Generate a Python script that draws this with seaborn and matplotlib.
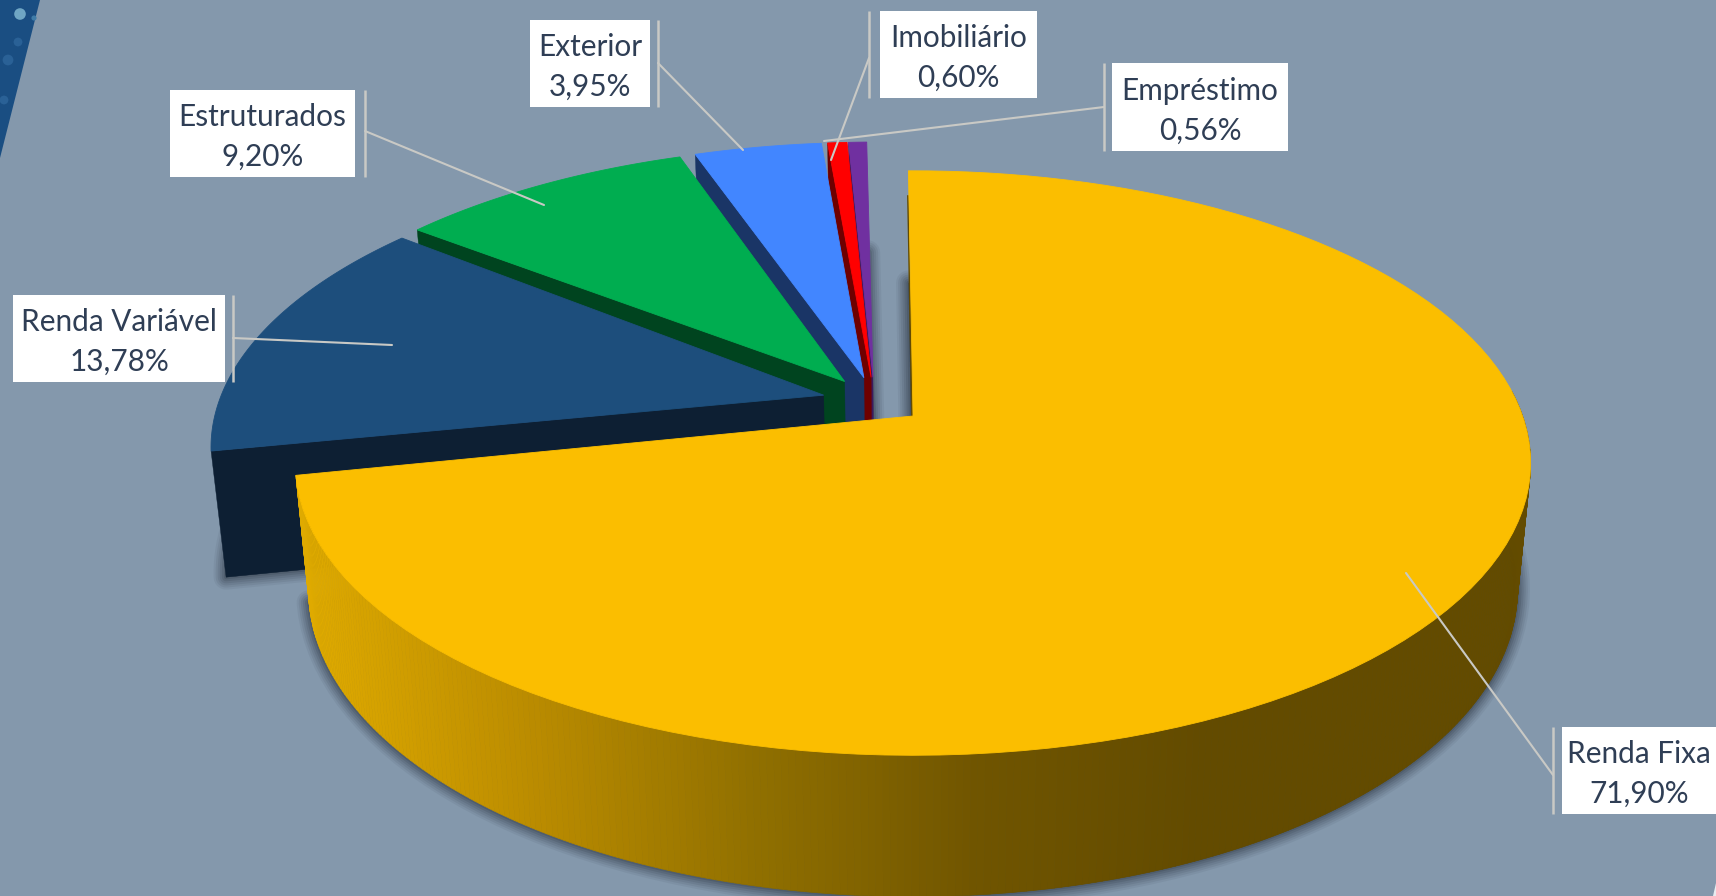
import numpy as np
import matplotlib
matplotlib.use('Agg')
import matplotlib.pyplot as plt
import seaborn as sns

# Dados da carteira
categorias = ['Renda Fixa', 'Renda Variável', 'Estruturados', 'Exterior', 'Imobiliário', 'Empréstimo']
valores = [71.90, 13.78, 9.20, 3.95, 0.60, 0.56]

cores_topo = ['#FBBE00', '#1D4E7C', '#00AD50', '#4286FF', '#FF0000', '#7030A0']
cores_parede = ['#634B00', '#0D1F33', '#00441F', '#1A3566', '#6E0000', '#3C1A5C']
cores_lateral = ['#DFAA00', '#BB8C00', '#917000', '#705500', '#634B00']

# Caixas dos rótulos: esquerda, direita, topo, base, x do traço, ponta da linha
caixas = [
    (1562, 1716, 727, 814, 1553, (1406, 573)),
    (13, 225, 295, 382, 233, (392, 345)),
    (170, 355, 90, 177, 365, (544, 205)),
    (530, 650, 20, 107, 658, (743, 150)),
    (880, 1037, 11, 98, 869, (831, 160)),
    (1112, 1288, 63, 151, 1104, (824, 141)),
]
saida_linha = [775, 338, 131, 63, 58, 107]

FUNDO = '#8498AC'
COR_TEXTO = '#2F3E55'
COR_LINHA = '#C9C9C5'

# Perspectiva da pizza, em pixels da figura
CX, CY = 913, 416
RAIO = 609.6
A = -217.7
C = 0.161
EXPLOSAO = 0.085
# ajuste fino do giro de cada fatia, em graus
GIROS = np.array([-0.5, -0.1, -1.1, -1.3, -1.3, -1.3])


def projeta(x, y):
    w = 1 + C * y
    return CX + RAIO * x / w, (CY + A * y) / w


def desce(px, py):
    # extrusao para baixo, maior perto do observador
    prof = 126 + 0.05 * (py - 449)
    return px + (CX - px) * 0.0214, py + prof


def direcao(graus):
    t = np.radians(graus)
    return np.sin(t), np.cos(t)


def borda(ini, fim, deslocamento, n=120):
    t = np.radians(np.linspace(ini, fim, n))
    return projeta(np.sin(t) + deslocamento[0], np.cos(t) + deslocamento[1])


sns.set_theme(style='white')
plt.rcParams['font.family'] = ['Lato', 'DejaVu Sans']

fig = plt.figure(figsize=(17.16, 8.96), dpi=100, facecolor=FUNDO)
ax = fig.add_axes([0, 0, 1, 1])
ax.set_xlim(0, 1716)
ax.set_ylim(896, 0)
ax.axis('off')

# Imagem de fundo nos cantos
ax.fill([0, 40, 0], [0, 0, 158], color='#1A4E82', zorder=1, lw=0)
ax.scatter([20, 34, 8, 18, 4], [14, 18, 60, 42, 100], s=[70, 14, 60, 40, 40],
           color=['#6FA6C4', '#3F7CA8', '#2A6196', '#2A6196', '#2A6196'], zorder=1, lw=0)
ax.fill([1716, 1716, 1713], [883, 896, 896], color='#E8ECF0', zorder=1, lw=0)

# Ângulos a partir dos valores
fracoes = np.array(valores) / np.sum(valores) * 360
fins_base = np.cumsum(fracoes)
meios = fins_base - fracoes / 2
fins = fins_base + GIROS
inicios = fins - fracoes
dir0 = direcao(meios[0])

fatias = []
for i in range(len(valores)):
    d = direcao(meios[i])
    desl = (EXPLOSAO * (d[0] - dir0[0]), EXPLOSAO * (d[1] - dir0[1]))
    ax0, ay0 = projeta(desl[0], desl[1])
    bx, by = borda(inicios[i], fins[i], desl)
    fatias.append((ax0, ay0, bx, by))

# Sombra difusa sob as fatias
for largura, alfa in zip([18, 15, 12, 9, 6, 3], [.07, .09, .11, .13, .16, .2]):
    for ax0, ay0, bx, by in fatias:
        xs = np.r_[ax0, bx]
        ys = np.r_[ay0, by]
        sx, sy = desce(xs, ys)
        ax.fill(sx, sy, facecolor='#27323F', edgecolor='#27323F', alpha=alfa,
                lw=largura, joinstyle='round', zorder=2)

# Da fatia de trás para a da frente
paleta_lateral = sns.blend_palette(cores_lateral, 256)
z = 3
for i in range(len(valores) - 1, -1, -1):
    ax0, ay0, bx, by = fatias[i]
    if i == 0:
        # lateral externa em degradê, só a parte da frente
        passos = np.linspace(85, fins[0], 300)
        for t0, t1 in zip(passos[:-1], passos[1:]):
            qx, qy = borda(t0, t1, (0, 0), n=2)
            dx, dy = desce(qx, qy)
            pos = np.clip((qx.mean() - 300) / 900, 0, 1)
            cor = paleta_lateral[int(pos * 255)]
            ax.fill([qx[0], qx[1], dx[1], dx[0]], [qy[0], qy[1], dy[1], dy[0]],
                    facecolor=cor, edgecolor=cor, lw=0.5, zorder=z)
    else:
        # parede do corte, visível no vão à esquerda da fatia
        dx0, dy0 = desce(ax0, ay0)
        dx1, dy1 = desce(bx[0], by[0])
        ax.fill([ax0, bx[0], dx1, dx0], [ay0, by[0], dy1, dy0],
                facecolor=cores_parede[i], edgecolor=cores_parede[i], lw=0.3, zorder=z)
    z += 1
    ax.fill(np.r_[ax0, bx], np.r_[ay0, by], facecolor=cores_topo[i],
            edgecolor=cores_topo[i], lw=0.6, zorder=z)
    z += 1

# Filete escuro no corte da fatia amarela
ax0, ay0, bx, by = fatias[0]
ax.plot([bx[0] - 0.5, ax0 - 1], [by[0] + 25, ay0], color=cores_parede[0], lw=1.2, zorder=z - 2)

# Rótulos com linhas de chamada
z += 1
for i, (nome, valor) in enumerate(zip(categorias, valores)):
    esq, dir_, topo, base, xt, ponta = caixas[i]
    ax.fill([esq, dir_, dir_, esq], [topo, topo, base, base], color='white', lw=0, zorder=z)
    ax.plot([xt, xt], [topo, base], color=COR_LINHA, lw=1.8, zorder=z, solid_capstyle='butt')
    ax.plot([xt, ponta[0]], [saida_linha[i], ponta[1]], color=COR_LINHA, lw=1.5, zorder=z)
    texto = f"{nome}\n{valor:.2f}%".replace('.', ',')
    ax.text((esq + dir_) / 2, (topo + base) / 2 + 3.5, texto, ha='center', va='center',
            fontsize=21.4, color=COR_TEXTO, linespacing=1.51, zorder=z + 1)

fig.savefig('out.png', dpi=100, facecolor=FUNDO)
